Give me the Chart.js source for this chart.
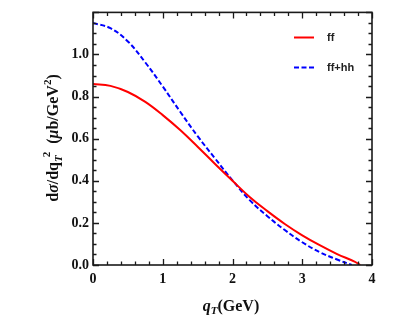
<!DOCTYPE html>
<html>
<head>
<meta charset="utf-8">
<script src="https://cdn.jsdelivr.net/npm/chart.js@4.4.0/dist/chart.umd.min.js"></script>
<style>
  body { margin: 0; background: #fff; }
  canvas { display: block; }
</style>
</head>
<body>
<canvas id="myChart" width="409" height="327"></canvas>
<script>
'use strict';

// data
let ffX = [0, 0.25, 0.5, 0.75, 1, 1.25, 1.5, 1.75, 2, 2.25, 2.5, 2.75, 3, 3.25, 3.5, 3.75, 3.83];
let ffY = [0.86, 0.851, 0.822, 0.775, 0.712, 0.641, 0.562, 0.48, 0.4, 0.322, 0.256, 0.195, 0.141, 0.094, 0.052, 0.016, 0];

let ffhhX = [0, 0.25, 0.5, 0.75, 1, 1.25, 1.5, 1.75, 2, 2.25, 2.5, 2.75, 3, 3.25, 3.5, 3.71];
let ffhhY = [1.15, 1.125, 1.062, 0.962, 0.848, 0.728, 0.612, 0.506, 0.402, 0.307, 0.232, 0.166, 0.108, 0.061, 0.026, 0];

let xTicks = [0, 1, 2, 3, 4];
let yTicks = [0, 0.2, 0.4, 0.6, 0.8, 1.0, 1.2];

let legendNames = ['ff', 'ff+hh'];

const serif = '"Liberation Serif", "Times New Roman", serif';

function points(xs, ys) {
  let out = [];
  for (let i = 0; i < xs.length; i++) {
    out.push({ x: xs[i], y: ys[i] });
  }
  return out;
}

// draw pieces of text one after another, returns width
function drawPieces(ctx, pieces, x, y, measureOnly) {
  let cx = x;
  for (let i = 0; i < pieces.length; i++) {
    let p = pieces[i];
    ctx.font = p.font;
    let w = ctx.measureText(p.t).width;
    if (!measureOnly) {
      ctx.fillText(p.t, cx + (p.dx || 0), y + (p.dy || 0));
    }
    cx += w + (p.dx || 0);
  }
  return cx - x;
}

const framePlugin = {
  id: 'framePlugin',
  afterDraw(chart) {
    const ctx = chart.ctx;
    const area = chart.chartArea;
    const xs = chart.scales.x;
    const ys = chart.scales.y;
    ctx.save();

    // ticks inside the box, all four sides
    ctx.strokeStyle = '#1a1a1a';
    ctx.lineWidth = 1.3;
    ctx.beginPath();
    for (let i = 0; i <= 20; i++) {
      let v = i * 0.2;
      let px = Math.round(xs.getPixelForValue(v)) + 0.5;
      let len = (i % 5 === 0) ? 6 : 3.5;
      ctx.moveTo(px, area.bottom);
      ctx.lineTo(px, area.bottom - len);
      ctx.moveTo(px, area.top);
      ctx.lineTo(px, area.top + len);
    }
    for (let i = 0; i <= 24; i++) {
      let v = i * 0.05;
      let py = Math.round(ys.getPixelForValue(v)) + 0.5;
      let len = (i % 4 === 0) ? 6 : 3.5;
      ctx.moveTo(area.left, py);
      ctx.lineTo(area.left + len, py);
      ctx.moveTo(area.right, py);
      ctx.lineTo(area.right - len, py);
    }
    ctx.stroke();

    // frame
    ctx.lineWidth = 1.6;
    ctx.strokeRect(area.left, area.top, area.right - area.left, area.bottom - area.top);

    // legend
    ctx.lineWidth = 2;
    ctx.strokeStyle = '#ff0000';
    ctx.beginPath();
    ctx.moveTo(294, 37.5);
    ctx.lineTo(314, 37.5);
    ctx.stroke();
    ctx.strokeStyle = '#0000ff';
    ctx.setLineDash([5, 2.5]);
    ctx.beginPath();
    ctx.moveTo(294, 67.5);
    ctx.lineTo(314, 67.5);
    ctx.stroke();
    ctx.setLineDash([]);
    ctx.fillStyle = '#222';
    ctx.font = 'bold 11px "Liberation Sans", Arial, sans-serif';
    ctx.textBaseline = 'middle';
    ctx.textAlign = 'left';
    ctx.fillText(legendNames[0], 327, 38);
    ctx.fillText(legendNames[1], 327, 68);

    // x title: q_T(GeV)
    ctx.fillStyle = '#111';
    ctx.textBaseline = 'alphabetic';
    let xPieces = [
      { t: 'q', font: 'italic bold 16px ' + serif },
      { t: 'T', font: 'italic bold 11px ' + serif, dy: 3 },
      { t: '(GeV)', font: 'bold 16px ' + serif }
    ];
    let wx = drawPieces(ctx, xPieces, 0, 0, true);
    drawPieces(ctx, xPieces, 231 - wx / 2, 311, false);

    // y title: dσ/dq_T^2 (μb/GeV^2)
    ctx.translate(58, 138);
    ctx.rotate(-Math.PI / 2);
    let yPieces = [
      { t: 'd', font: 'bold 16px ' + serif },
      { t: 'σ', font: 'italic bold 16px ' + serif },
      { t: '/dq', font: 'bold 16px ' + serif },
      { t: 'T', font: 'italic bold 11px ' + serif, dy: 4 },
      { t: '2', font: 'bold 11px ' + serif, dy: -8, dx: -2 },
      { t: '  (', font: 'bold 16px ' + serif },
      { t: 'μ', font: 'italic bold 16px ' + serif },
      { t: 'b/GeV', font: 'bold 16px ' + serif },
      { t: '2', font: 'bold 11px ' + serif, dy: -7 },
      { t: ')', font: 'bold 16px ' + serif }
    ];
    let wy = drawPieces(ctx, yPieces, 0, 0, true);
    drawPieces(ctx, yPieces, -wy / 2, 0, false);

    ctx.restore();
  }
};

const tickFont = { family: serif, size: 14, weight: 'bold' };

let ctx = document.getElementById('myChart').getContext('2d');
let myChart = new Chart(ctx, {
  type: 'line',
  data: {
    datasets: [{
      label: legendNames[0],
      data: points(ffX, ffY),
      borderColor: '#ff0000',
      borderWidth: 2,
      pointRadius: 0,
      tension: 0.4,
      fill: false
    }, {
      label: legendNames[1],
      data: points(ffhhX, ffhhY),
      borderColor: '#0000ff',
      borderWidth: 2,
      borderDash: [5, 2.5],
      pointRadius: 0,
      tension: 0.4,
      fill: false
    }]
  },
  options: {
    responsive: false,
    animation: false,
    layout: { padding: { top: 12, right: 37, left: 0, bottom: 0 } },
    plugins: {
      legend: { display: false },
      tooltip: { enabled: false }
    },
    scales: {
      x: {
        type: 'linear',
        min: 0,
        max: 4,
        afterBuildTicks(scale) {
          scale.ticks = xTicks.map(v => ({ value: v }));
        },
        ticks: {
          font: tickFont,
          color: '#111',
          padding: 6,
          maxRotation: 0,
          callback: v => String(v)
        },
        grid: { display: false, drawTicks: false },
        border: { display: false },
        afterFit(scale) { scale.height = 62; }
      },
      y: {
        min: 0,
        max: 1.2,
        afterBuildTicks(scale) {
          scale.ticks = yTicks.map(v => ({ value: v }));
        },
        ticks: {
          font: tickFont,
          color: '#111',
          padding: 4,
          callback: v => (v > 1.15 ? '' : v.toFixed(1))
        },
        grid: { display: false, drawTicks: false },
        border: { display: false },
        afterFit(scale) { scale.width = 93; }
      }
    }
  },
  plugins: [framePlugin]
});
</script>
</body>
</html>
